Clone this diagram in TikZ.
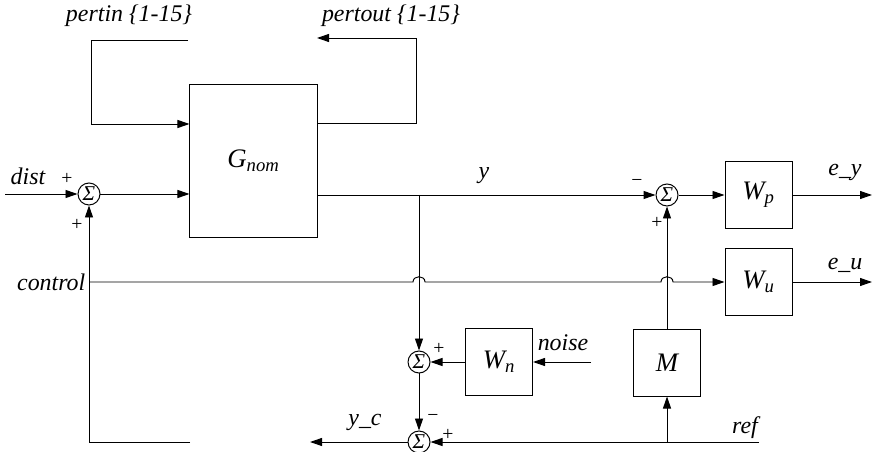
\documentclass[tikz,border=0pt]{standalone}
\usepackage{fontspec}
\setmainfont{Liberation Serif}
\usetikzlibrary{arrows.meta, calc, positioning}
\tikzset{
  sysblock/.style  = {draw, line width=0.7pt, minimum width=1.675cm,
                      minimum height=1.65cm, inner sep=0pt,
                      font=\fontsize{19}{21}\selectfont\itshape},
  sumjoint/.style  = {circle, draw, line width=0.7pt, minimum size=0.55cm,
                      inner sep=0pt, font=\fontsize{15}{15}\selectfont\itshape},
  wire/.style      = {line width=0.7pt},
  sig/.style       = {wire, -{Triangle[length=3mm, width=2mm]}},
  siglabel/.style  = {font=\fontsize{17}{19}\selectfont\itshape, inner sep=1pt},
  signmark/.style  = {font=\fontsize{14}{14}\selectfont, inner sep=0pt},
}

\begin{document}
\begin{tikzpicture}[x=0.025cm, y=-0.025cm]
  \useasboundingbox (0,0) rectangle (874,452);
  % blocks
  \node[sysblock, minimum width=3.175cm, minimum height=3.8cm] (Gnom) at (253.5,161)
    {G\textsubscript{nom}};
  \node[sysblock] (Wp) at (758.5,195) {W\textsubscript{p}};
  \node[sysblock] (Wu) at (758.5,282) {W\textsubscript{u}};
  \node[sysblock] (Wn) at (499,362) {W\textsubscript{n}};
  \node[sysblock] (M)  at (667,363) {M};
  % summing junctions
  \node[sumjoint] (s1) at (89,194)  {Σ};
  \node[sumjoint] (s2) at (667,195) {Σ};
  \node[sumjoint] (s3) at (419,362) {Σ};
  \node[sumjoint] (s4) at (419,442) {Σ};
  % free ends and corners
  \coordinate (distin)        at (5,194);
  \coordinate (pertinend)     at (188,40);
  \coordinate (pertincorner)  at (91,124);
  \coordinate (pertoutrise)   at (416,123);
  \coordinate (pertouttip)    at (317,38);
  \coordinate (ctrlstart)     at (89,282);
  \coordinate (ctrlbot)       at (89,442);
  \coordinate (ctrlend)       at (190,442);
  \coordinate (ytap)          at (419,195);
  \coordinate (eyout)         at (872,195);
  \coordinate (euout)         at (872,282);
  \coordinate (noisein)       at (591,362);
  \coordinate (refin)         at (759,442);
  \coordinate (reftap)        at (667,442);
  \coordinate (ycout)         at (310,442);
  \coordinate (hop1)          at (ytap |- ctrlstart);
  \coordinate (hop2)          at (s2 |- ctrlstart);
  % connectors
  \draw[sig] (pertinend) -| (pertincorner) -- (Gnom.west |- pertincorner);
  \draw[sig] (Gnom.east |- pertoutrise) -- (pertoutrise) |- (pertouttip);
  \draw[sig] (distin) -- (s1);
  \draw[sig] (s1) -- (s1 -| Gnom.west);
  \draw[sig] (ctrlend) -- (ctrlbot) -- (s1);
  \draw[sig] (Gnom.east |- s2) -- (s2);
  \draw[sig] (ytap) -- (s3);
  \draw[sig] (s2) -- (Wp);
  \draw[sig] (Wp) -- (eyout);
  \draw[sig] (Wu) -- (euout);
  \draw[sig] (ctrlstart) -- ($(hop1)+(-6,0)$) .. controls +(0,-7) and +(0,-7) .. ($(hop1)+(6,0)$)
    -- ($(hop2)+(-6,0)$) .. controls +(0,-7) and +(0,-7) .. ($(hop2)+(6,0)$) -- (Wu);
  \draw[sig] (noisein) -- (Wn);
  \draw[sig] (Wn) -- (s3);
  \draw[sig] (s3) -- (s4);
  \draw[sig] (refin) -- (s4);
  \draw[sig] (reftap) -- (M);
  \draw[sig] (M) -- (s2);
  \draw[sig] (s4) -- (ycout);
  % signal names
  \node[siglabel] (lpertin)  at (129,16)  {pertin \{1-15\}};
  \node[siglabel] (lpertout) at (391,16)  {pertout \{1-15\}};
  \node[siglabel] (ldist)    at (28,176)  {dist};
  \node[siglabel] (ly)       at (484,176) {y};
  \node[siglabel] (ley)      at (845,172) {e\_y};
  \node[siglabel] (leu)      at (845,265) {e\_u};
  \node[siglabel, anchor=east] (lctrl) at (87,282) {control};
  \node[siglabel] (lnoise)   at (563,343) {noise};
  \node[siglabel] (lref)     at (745,428) {ref};
  \node[siglabel] (lyc)      at (365,422) {y\_c};
  % signs
  \node[signmark] (s1a) at (67,179)  {+};
  \node[signmark] (s1b) at (77,225)  {+};
  \node[signmark] (s2a) at (637,183) {−};
  \node[signmark] (s2b) at (657,223) {+};
  \node[signmark] (s3a) at (439,349) {+};
  \node[signmark] (s4a) at (433,418) {−};
  \node[signmark] (s4b) at (448,435) {+};
\end{tikzpicture}
\end{document}
